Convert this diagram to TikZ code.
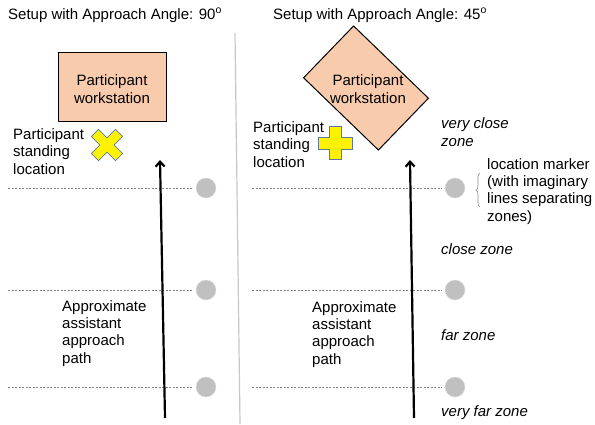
\documentclass[tikz,border=0pt]{standalone}
\usepackage{fontspec}
\setmainfont{Liberation Sans}
\usepackage{tikz}
\usetikzlibrary{arrows.meta, decorations.pathreplacing}
\definecolor{deskfill}{HTML}{F8CBAD}
\definecolor{markgray}{HTML}{C0C0C0}
\definecolor{spotline}{HTML}{5B7B9B}
\tikzset{
  lbl/.style={font=\fontsize{15}{17.3}\selectfont, align=left, inner sep=0pt, anchor=base west},
  zone/.style={lbl, font=\fontsize{15}{17.3}\selectfont\itshape},
  desk/.style={draw, fill=deskfill, line width=1pt},
  desktxt/.style={font=\fontsize{15}{17.3}\selectfont, align=center, inner sep=0pt},
  marker/.style={circle, fill=markgray, draw=markgray!50!white, minimum size=20pt, inner sep=0pt},
  zoneline/.style={dash pattern=on 2pt off 1.5pt, gray, line width=0.6pt, shorten >=3pt},
  approach/.style={-{Straight Barb[length=5pt,width=9pt]}, line width=2.2pt},
  spot/.style={fill=yellow, draw=spotline, line width=0.7pt},
  divider/.style={draw=black!22, line width=1.2pt}
}

\begin{document}
\begin{tikzpicture}[x=1pt, y=-1pt]
  \useasboundingbox (0,0) rectangle (595,424);
  \node[lbl] (title1) at (8,19) {Setup with Approach Angle: 90\textsuperscript{o}};
  \node[lbl] (title2) at (273,19) {Setup with Approach Angle: 45\textsuperscript{o}};
  \coordinate (divtop) at (235,33);
  \coordinate (divbot) at (240,424);
  \draw[divider] (divtop) -- (divbot);

  \node[desk, minimum width=108pt, minimum height=69pt] (ws1) at (112,87) {};
  \node[desktxt] (ws1txt) at (112,89) {Participant\\workstation};
  \node[desk, rotate=-44, minimum width=104pt, minimum height=72pt] (ws2) at (366,88) {};
  \node[desktxt] (ws2txt) at (368,89) {Participant\\workstation};

  \node[lbl] (stand1txt) at (13,174) {Participant\\standing\\location};
  \node[lbl] (stand2txt) at (253,167) {Participant\\standing\\location};
  \coordinate (stand1) at (107,145);
  \coordinate (stand2) at (335,143);
  \draw[spot, shift={(stand1)}, rotate=45] (5,17) -- (5,5) -- (17,5) -- (17,-5) -- (5,-5) -- (5,-17)
    -- (-5,-17) -- (-5,-5) -- (-17,-5) -- (-17,5) -- (-5,5) -- (-5,17) -- cycle;
  \draw[spot, shift={(stand2)}] (6,16.5) -- (6,6) -- (17,6) -- (17,-6) -- (6,-6) -- (6,-16.5)
    -- (-6,-16.5) -- (-6,-6) -- (-17,-6) -- (-17,6) -- (-6,6) -- (-6,16.5) -- cycle;

  \foreach \y [count=\i] in {188,290,387} {
    \node[marker] (ma\i) at (206,\y) {};
    \node[marker] (mb\i) at (455,\y) {};
    \coordinate (la\i) at (8,\y);
    \coordinate (lb\i) at (252,\y);
    \draw[zoneline] (la\i) -- (ma\i);
    \draw[zoneline] (lb\i) -- (mb\i);
  }

  \coordinate (start1) at (165,418);
  \coordinate (end1) at (160,160);
  \coordinate (start2) at (414,418);
  \coordinate (end2) at (410,160);
  \draw[approach] (start1) -- (end1);
  \draw[approach] (start2) -- (end2);
  \node[lbl] (path1) at (62,363) {Approximate\\assistant\\approach\\path};
  \node[lbl] (path2) at (312,364) {Approximate\\assistant\\approach\\path};

  \coordinate (bracetop) at (480,173);
  \coordinate (bracebot) at (480,207);
  \draw[black!45, line width=0.6pt, decorate, decoration={brace, amplitude=4pt}] (bracebot) -- (bracetop);
  \node[lbl] (markertxt) at (487,221) {location marker\\(with imaginary\\lines separating\\zones)};

  \node[zone] (z1) at (441,146) {very close\\zone};
  \node[zone] (z2) at (441,254) {close zone};
  \node[zone] (z3) at (441,340) {far zone};
  \node[zone] (z4) at (441,416) {very far zone};
\end{tikzpicture}
\end{document}
